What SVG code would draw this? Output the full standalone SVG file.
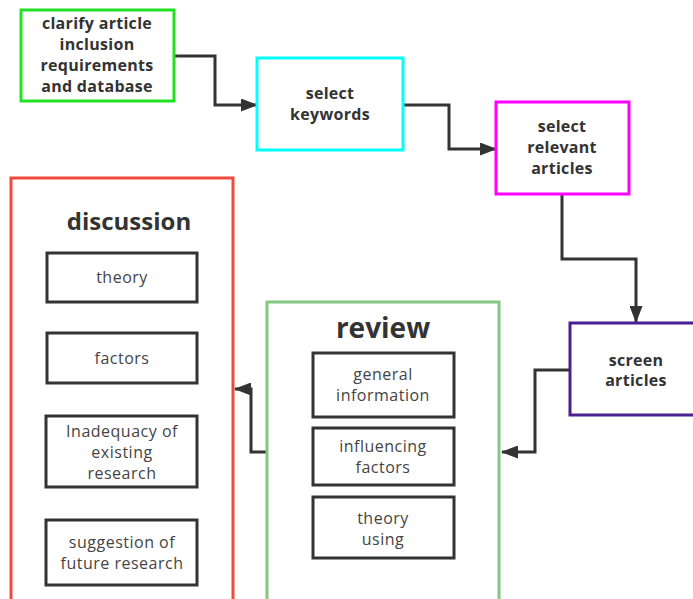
<svg xmlns="http://www.w3.org/2000/svg" width="693" height="599" viewBox="0 0 693 599">
<defs>
<marker id="arr" markerWidth="17" markerHeight="13" refX="16" refY="6.5" orient="auto" markerUnits="userSpaceOnUse" viewBox="0 0 17 13">
<path d="M0,0 L17,6.5 L0,13 Z" fill="#333"/>
</marker>
<style>
text{font-family:"Open Sans","Noto Sans","Liberation Sans",sans-serif;text-anchor:middle;dominant-baseline:central;fill:#333}
.b{font-weight:bold;font-size:16px;letter-spacing:0.3px}
.n{font-size:16px;fill:#444;letter-spacing:0.5px}
.t{font-weight:bold;font-size:24px}
.box{fill:#fff;stroke-width:3}
.inner{fill:#fff;stroke:#333;stroke-width:3}
.c{fill:none;stroke:#333;stroke-width:3;marker-end:url(#arr)}
</style>
</defs>
<rect width="693" height="599" fill="#fff"/>
<g id="connectors">
<path class="c" d="M174,56 H215 V105 H257"/>
<path class="c" d="M403,105 H449 V149 H496"/>
<path class="c" d="M562,194 V259 H636 V322"/>
<path class="c" d="M570,370 H535 V452 H502"/>
<path class="c" d="M267,452 H251 V389 H235"/>
</g>
<g id="clarify">
<rect class="box" x="21" y="10" width="153" height="91" stroke="#22e022"/>
<text class="b" x="97" y="23">clarify article</text>
<text class="b" x="97" y="44">inclusion</text>
<text class="b" x="97" y="65">requirements</text>
<text class="b" x="97" y="86">and database</text>
</g>
<g id="keywords">
<rect class="box" x="257" y="58" width="146" height="92" stroke="#00ffff"/>
<text class="b" x="330" y="93">select</text>
<text class="b" x="330" y="114">keywords</text>
</g>
<g id="relevant">
<rect class="box" x="496" y="102" width="133" height="92" stroke="#ff00ff"/>
<text class="b" x="562" y="126">select</text>
<text class="b" x="562" y="147">relevant</text>
<text class="b" x="562" y="168">articles</text>
</g>
<g id="screen">
<rect class="box" x="570" y="323" width="132" height="92" stroke="#4b1f8f"/>
<text class="b" x="636" y="360">screen</text>
<text class="b" x="636" y="380">articles</text>
</g>
<g id="review">
<rect class="box" x="267" y="302" width="232" height="310" stroke="#82c882"/>
<text class="t" x="383" y="327" style="font-size:28px">review</text>
<rect class="inner" x="313" y="353" width="141" height="64"/>
<text class="n" x="383" y="374">general</text>
<text class="n" x="383" y="395">information</text>
<rect class="inner" x="313" y="428" width="141" height="57"/>
<text class="n" x="383" y="446">influencing</text>
<text class="n" x="383" y="467">factors</text>
<rect class="inner" x="313" y="497" width="141" height="61"/>
<text class="n" x="383" y="518">theory</text>
<text class="n" x="383" y="539">using</text>
</g>
<g id="discussion">
<rect class="box" x="11" y="178" width="222" height="440" stroke="#f04a3c"/>
<text class="t" x="129" y="220">discussion</text>
<rect class="inner" x="47" y="253" width="150" height="49"/>
<text class="n" x="122" y="277">theory</text>
<rect class="inner" x="47" y="333" width="150" height="50"/>
<text class="n" x="122" y="358">factors</text>
<rect class="inner" x="46" y="416" width="151" height="71"/>
<text class="n" x="122" y="431">Inadequacy of</text>
<text class="n" x="122" y="452">existing</text>
<text class="n" x="122" y="473">research</text>
<rect class="inner" x="46" y="520" width="151" height="65"/>
<text class="n" x="122" y="542">suggestion of</text>
<text class="n" x="122" y="563">future research</text>
</g>
</svg>
